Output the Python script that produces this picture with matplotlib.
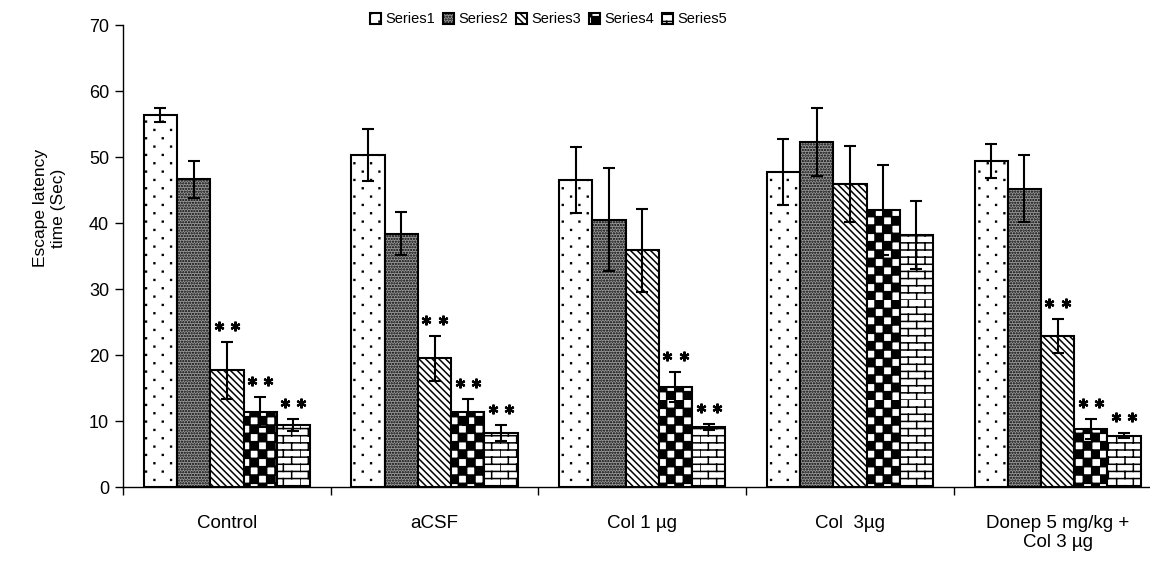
import warnings
warnings.filterwarnings('ignore')
import numpy as np
import matplotlib
matplotlib.use('Agg')
import matplotlib.pyplot as plt
import matplotlib.hatch as mhatch
from matplotlib.path import Path

# ---------------- data ----------------
categories = ['Control', 'aCSF', 'Col 1 µg', 'Col  3µg', 'Donep 5 mg/kg +\nCol 3 µg']
series_names = ['Series1', 'Series2', 'Series3', 'Series4', 'Series5']
s1 = [56.4, 50.3, 46.5, 47.8, 49.4]
s1_err = [1.1, 4.0, 5.0, 5.0, 2.6]
s2 = [46.6, 38.4, 40.5, 52.3, 45.2]
s2_err = [2.8, 3.2, 7.8, 5.2, 5.1]
s3 = [17.7, 19.5, 35.9, 45.9, 22.9]
s3_err = [4.3, 3.4, 6.3, 5.8, 2.6]
s4 = [11.4, 11.4, 15.2, 42.0, 8.8]
s4_err = [2.3, 2.0, 2.3, 6.8, 1.5]
s5 = [9.4, 8.2, 9.1, 38.2, 7.8]
s5_err = [0.9, 1.2, 0.5, 5.2, 0.4]
sig_s1 = [False, False, False, False, False]
sig_s2 = [False, False, False, False, False]
sig_s3 = [True, True, False, False, True]
sig_s4 = [True, True, True, False, True]
sig_s5 = [True, True, True, False, True]
y_ticks = [0, 10, 20, 30, 40, 50, 60, 70]


# ---------------- custom hatches ----------------
def _square(vertices, codes, k, x0, y0, s):
    vertices[k:k + 5] = [[x0, y0], [x0 + s, y0], [x0 + s, y0 + s],
                         [x0, y0 + s], [x0, y0]]
    codes[k] = Path.MOVETO
    codes[k + 1:k + 4] = Path.LINETO
    codes[k + 4] = Path.CLOSEPOLY


class CheckerHatch(mhatch.HatchPatternBase):
    def __init__(self, hatch, density):
        self.n = 12
        self.num_vertices = (self.n * self.n // 2) * 5 if 'C' in hatch else 0

    def set_vertices_and_codes(self, vertices, codes):
        n = self.n
        s = 1.0 / n
        k = 0
        for i in range(n):
            for j in range(n):
                if (i + j) % 2 == 0:
                    _square(vertices, codes, k, j * s, i * s, s)
                    k += 5


class SparseDotHatch(mhatch.HatchPatternBase):
    def __init__(self, hatch, density):
        self.rows = 12
        self.cols = 6
        self.size = 0.008
        self.num_vertices = self.rows * self.cols * 5 if 'D' in hatch else 0

    def set_vertices_and_codes(self, vertices, codes):
        k = 0
        for r in range(self.rows):
            off = 0.5 * (r % 2) / self.cols
            for c in range(self.cols):
                xx = c / self.cols + off + 0.04
                yy = r / self.rows + 0.03
                _square(vertices, codes, k, xx, yy, self.size)
                k += 5


class BrickHatch(mhatch.HatchPatternBase):
    def __init__(self, hatch, density):
        self.rows = 14
        self.cols = 6
        self.num_vertices = (self.rows + self.rows * self.cols) * 2 if 'B' in hatch else 0

    def set_vertices_and_codes(self, vertices, codes):
        segs = []
        for r in range(self.rows):
            y0 = r / self.rows
            y1 = (r + 1) / self.rows
            segs.append(((0.0, y0), (1.0, y0)))
            off = 0.5 * (r % 2) / self.cols
            for c in range(self.cols):
                xx = c / self.cols + off
                segs.append(((xx, y0), (xx, y1)))
        k = 0
        for a, b in segs:
            vertices[k] = a
            vertices[k + 1] = b
            codes[k] = Path.MOVETO
            codes[k + 1] = Path.LINETO
            k += 2


mhatch._hatch_types.append(CheckerHatch)
mhatch._hatch_types.append(SparseDotHatch)
mhatch._hatch_types.append(BrickHatch)

plt.rcParams['font.family'] = ['Liberation Sans', 'DejaVu Sans']
plt.rcParams['hatch.linewidth'] = 1.1

fig = plt.figure(figsize=(11.5, 5.69), dpi=100)
ax = fig.add_axes([0.107, 0.144, 0.893, 0.812])

values = [s1, s2, s3, s4, s5]
errors = [s1_err, s2_err, s3_err, s4_err, s5_err]
sigs = [sig_s1, sig_s2, sig_s3, sig_s4, sig_s5]
styles = [
    dict(facecolor='white', hatch='D'),
    dict(facecolor='#9a9a9a', hatch='......'),
    dict(facecolor='white', hatch='\\\\\\\\\\'),
    dict(facecolor='white', hatch='C'),
    dict(facecolor='white', hatch='B'),
]

x = np.arange(len(categories))
width = 0.16
handles = []
for i, (vals, errs, sg, st) in enumerate(zip(values, errors, sigs, styles)):
    pos = x + (i - 2) * width
    b = ax.bar(pos, vals, width, edgecolor='black', linewidth=1.5,
               label=series_names[i], zorder=2, **st)
    handles.append(b)
    ax.errorbar(pos, vals, yerr=errs, fmt='none', ecolor='black',
                elinewidth=1.5, capsize=4.5, capthick=1.5, zorder=3)
    sp = np.array([p for p, f in zip(pos, sg) if f])
    sy = np.array([v + e + 2.4 for v, e, f in zip(vals, errs, sg) if f])
    if len(sp):
        for dx in (-0.039, 0.039):
            ax.plot(sp + dx, sy, linestyle='none', marker=(6, 2, 0),
                    markersize=7, markeredgewidth=1.6, color='black', zorder=4)

ax.set_ylim(0, 70)
ax.set_xlim(-0.5, 4.445)
ax.set_yticks(y_ticks)
ax.tick_params(axis='y', direction='out', length=6, width=1, labelsize=13, pad=4)

ax.set_xticks(np.arange(-0.5, len(categories) - 0.5, 1.0))
ax.set_xticklabels([])
ax.tick_params(axis='x', which='major', direction='out', length=6, width=1)
ax.set_xticks(x, minor=True)
ax.set_xticklabels(categories, minor=True)
ax.tick_params(axis='x', which='minor', length=0, labelsize=13.5, pad=20)

for side in ['top', 'right']:
    ax.spines[side].set_visible(False)
ax.spines['left'].set_linewidth(1)
ax.spines['bottom'].set_linewidth(1)

ax.set_ylabel('Escape latency\ntime (Sec)', fontsize=12.5)
ax.yaxis.set_label_coords(-0.056, 0.604)

fig.legend(handles, series_names, loc='center', bbox_to_anchor=(0.477, 0.966),
           ncol=5, frameon=False, fontsize=10.5, handlelength=0.75, handleheight=0.75,
           handletextpad=0.3, columnspacing=0.55)

fig.savefig('out.png', dpi=100)
